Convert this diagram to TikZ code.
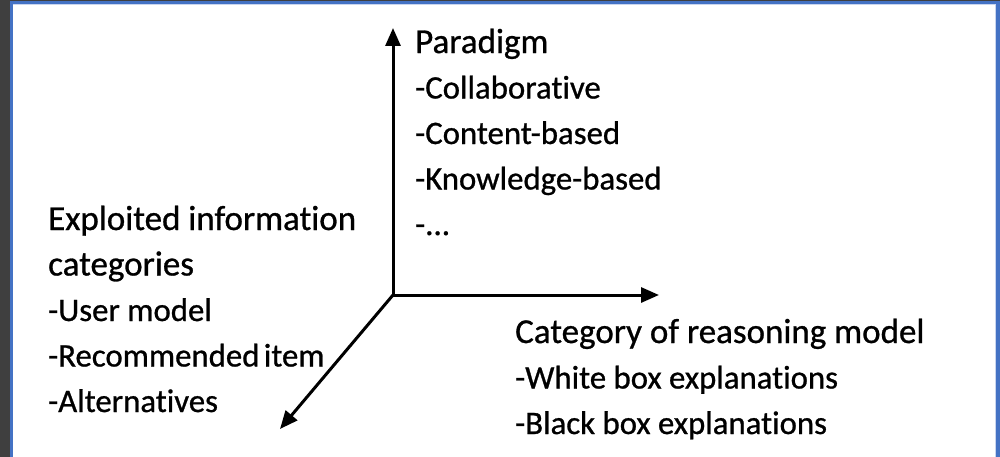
\documentclass[tikz,border=0pt]{standalone}
\usepackage{fontspec}
\setmainfont{Carlito}[Ligatures=NoCommon,FakeBold=0.8]
\usetikzlibrary{arrows.meta}
\definecolor{framegray}{HTML}{3F3F3F}
\definecolor{frameblue}{HTML}{4472C4}
\definecolor{lightline}{HTML}{C9D5EE}
\newcommand\listitem[1]{{\fontsize{32.8}{45.5}\selectfont #1}}
\tikzset{
  axis/.style={line width=3pt, -{Triangle[length=18pt,width=15pt]}},
  label/.style={anchor=base west, inner sep=0pt, align=left, font=\fontsize{35}{45.5}\selectfont}
}
\begin{document}
\begin{tikzpicture}[x=1pt,y=-1pt]
\useasboundingbox (0,0) rectangle (1000,457);
\fill[framegray] (0,0) rectangle (1000,457);
\fill[frameblue] (10,1.5) rectangle (1000,457);
\fill[lightline] (12.5,4) rectangle (996,457);
\fill[white] (12.5,5) rectangle (995,457);
\coordinate (o) at (393,295);
\coordinate (up) at (393,28);
\coordinate (right) at (659,295);
\coordinate (down) at (280,429);
\draw[axis] (o) -- (up);
\draw[axis] (o) -- (right);
\draw[axis] (o) -- (down);
\node[label] (paradigm) at (415,235) {Paradigm\\\listitem{-Collaborative}\\\listitem{-Content-based}\\\listitem{-Knowledge-based}\\\listitem{-...}};
\node[label] (exploited) at (48,412) {Exploited information\\categories\\\listitem{-User model}\\\listitem{-Recommended\hspace{-3pt} item}\\\listitem{-Alternatives}};
\node[label] (category) at (515,434) {Category of reasoning model\\\listitem{-White box explanations}\\\listitem{-Black box explanations}};
\end{tikzpicture}
\end{document}
